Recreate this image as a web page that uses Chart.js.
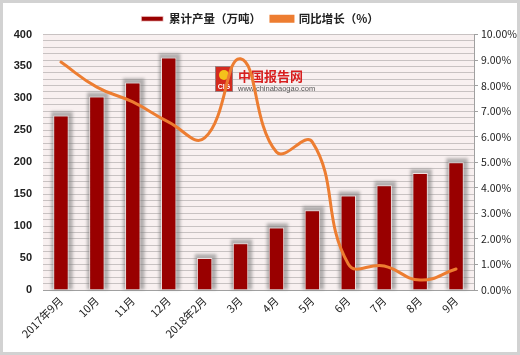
<!DOCTYPE html>
<html><head><meta charset="utf-8">
<script src="https://cdn.jsdelivr.net/npm/chart.js@4.4.1/dist/chart.umd.min.js"></script>
<style>html,body{margin:0;padding:0;background:#fff;}#wrap{width:520px;height:355px;position:relative;}</style>
</head><body><div id="wrap"><canvas id="c" width="520" height="355"></canvas></div>
<script>
const categories = ['2017年9月','10月','11月','12月','2018年2月','3月','4月','5月','6月','7月','8月','9月'];
const output = [273, 303, 325, 364, 50, 73, 98, 125, 148, 164, 183, 200];
const growth = [8.92, 7.94, 7.36, 6.57, 5.95, 9.05, 5.40, 5.79, 1.02, 0.94, 0.39, 0.82];
const seriesNames = ['累计产量（万吨）', '同比增长（%）'];

const cjk = '"Noto Sans CJK SC", "Noto Sans", sans-serif';

const decor = {
  id: 'decor',
  beforeDraw(chart) {
    const {ctx, chartArea: a} = chart;
    ctx.save();
    ctx.fillStyle = '#F8F0F0';
    ctx.fillRect(a.left, a.top, a.right - a.left, a.bottom - a.top);
    ctx.restore();
  },
  beforeDatasetsDraw(chart) {
    const ctx = chart.ctx;
    ctx.save();
    ctx.fillStyle = '#D42A1E';
    ctx.fillRect(215, 66, 18, 26);
    ctx.strokeStyle = '#9b8080';
    ctx.lineWidth = 1;
    ctx.strokeRect(215.5, 66.5, 17, 25);
    ctx.fillStyle = '#F4C21B';
    ctx.beginPath(); ctx.arc(224, 75, 5, 0, Math.PI*2); ctx.fill();
    ctx.fillStyle = '#fff';
    ctx.font = 'bold 7px "Liberation Sans", sans-serif';
    ctx.textAlign = 'center'; ctx.textBaseline = 'middle';
    ctx.fillText('CIG', 224, 87);
    ctx.textAlign = 'left';
    ctx.fillStyle = '#D81E1E';
    ctx.font = 'bold 13px ' + cjk;
    ctx.fillText('中国报告网', 238, 76);
    ctx.fillStyle = '#555';
    ctx.font = '7.5px "Liberation Sans", sans-serif';
    ctx.fillText('www.chinabaogao.com', 238, 89);
    ctx.restore();
  },
  beforeDatasetDraw(chart, args) {
    if (args.index !== 0) return;
    const ctx = chart.ctx;
    const meta = chart.getDatasetMeta(0);
    ctx.save();
    ctx.filter = 'blur(1.5px)';
    ctx.fillStyle = 'rgba(120,120,120,0.55)';
    meta.data.forEach(b => {
      const p = b.getProps(['x', 'y', 'base', 'width'], true);
      ctx.fillRect(p.x - p.width / 2 - 2, p.y - 4, p.width + 6, p.base - p.y + 4);
    });
    ctx.restore();
  },
  afterDraw(chart) {
    const ctx = chart.ctx;
    ctx.save();
    ctx.strokeStyle = '#D2D2D2';
    ctx.lineWidth = 3;
    ctx.strokeRect(1.5, 1.5, 517, 352);
    ctx.restore();
  }
};

new Chart(document.getElementById('c'), {
  type: 'bar',
  data: {
    labels: categories,
    datasets: [
      {
        type: 'bar', label: seriesNames[0], data: output, yAxisID: 'y',
        backgroundColor: '#990000', borderColor: 'rgba(255,235,235,0.8)', borderWidth: 1,
        categoryPercentage: 0.86, barPercentage: 0.5, order: 2
      },
      {
        type: 'line', label: seriesNames[1], data: growth, yAxisID: 'y1',
        borderColor: '#ED7D31', backgroundColor: '#ED7D31', borderWidth: 3,
        pointRadius: 0, tension: 0.45, order: 1, borderCapStyle: 'round'
      }
    ]
  },
  options: {
    responsive: false, animation: false,
    layout: { padding: { top: 3, left: 0, right: 0, bottom: 0 } },
    plugins: {
      legend: {
        position: 'top',
        labels: {
          boxWidth: 22, boxHeight: 5, padding: 10, color: '#222',
          font: { family: cjk, size: 11.5, weight: 'bold' },
          sort: (a, b) => a.datasetIndex - b.datasetIndex
        }
      },
      tooltip: { enabled: false }
    },
    scales: {
      x: {
        offset: true,
        grid: { display: false, drawTicks: false },
        border: { display: true, color: '#A0A0A0' },
        ticks: { maxRotation: 45, minRotation: 45, autoSkip: false, color: '#222', padding: 4,
          font: { family: cjk, size: 11 } },
        afterFit(s) { s.height = 65; }
      },
      y: {
        position: 'left', min: 0, max: 400,
        grid: { color: '#C8C2C2', lineWidth: 1, drawTicks: false },
        border: { display: false },
        ticks: { stepSize: 10, autoSkip: false, color: '#222', padding: 11,
          font: { family: '"Liberation Sans", Arial, sans-serif', size: 11, weight: 'bold' },
          callback: v => (v % 50 === 0 ? v : '') },
        afterFit(s) { s.width = 43; }
      },
      y1: {
        position: 'right', min: 0, max: 10,
        grid: { drawOnChartArea: false, color: '#A0A0A0', tickLength: 4 },
        border: { display: true, color: '#A0A0A0' },
        ticks: { stepSize: 1, color: '#222', padding: 3,
          font: { family: cjk, size: 10.5 },
          callback: v => v.toFixed(2) + '%' },
        afterFit(s) { s.width = 46; }
      }
    }
  },
  plugins: [decor]
});
</script>
</body></html>
